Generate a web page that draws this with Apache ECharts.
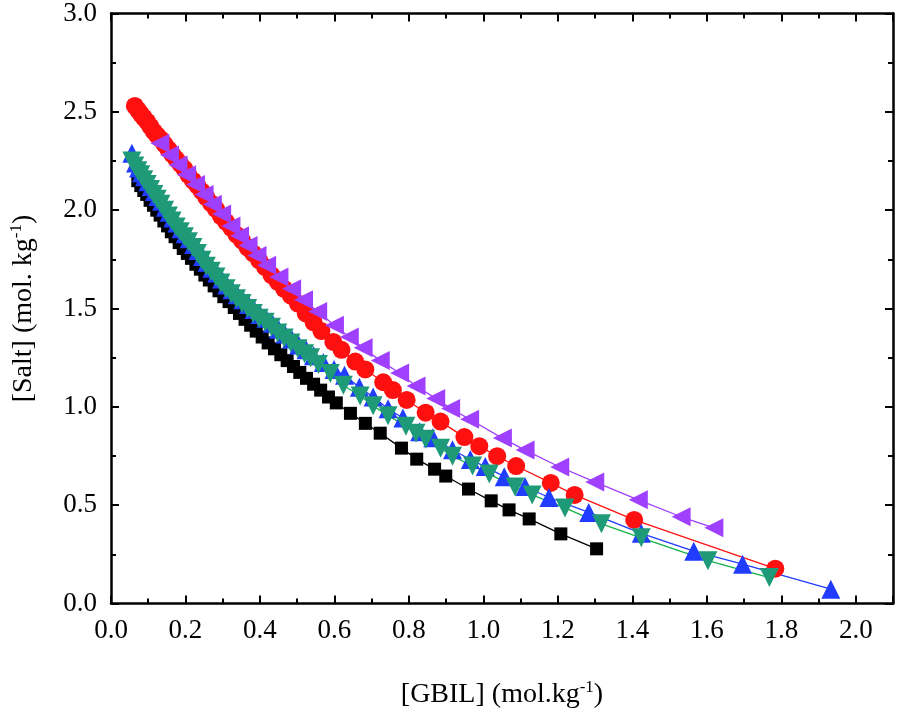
<!DOCTYPE html>
<html lang="en">
  <head>
    <meta charset="UTF-8" />
    <title>Salt vs GBIL</title>
    <script src="https://cdn.jsdelivr.net/npm/echarts@6.0.0/dist/echarts.min.js"></script>
    <style>
      html, body { margin: 0; padding: 0; background: #fff; }
    </style>
  </head>
  <body>
    <div id="chart" style="width: 897px; height: 714px"></div>

    <script type="text/javascript">
      // points: [GBIL, Salt] in mol/kg
      const blackSquares = [
        [0.072, 2.15], [0.080, 2.125], [0.088, 2.10], [0.096, 2.08], [0.105, 2.05], [0.114, 2.025],
        [0.123, 2.00], [0.132, 1.975], [0.142, 1.945], [0.152, 1.92], [0.162, 1.89], [0.172, 1.865],
        [0.183, 1.835], [0.194, 1.805], [0.205, 1.78], [0.216, 1.755], [0.228, 1.725], [0.240, 1.70],
        [0.252, 1.67], [0.264, 1.645], [0.277, 1.615], [0.290, 1.59], [0.303, 1.56], [0.317, 1.535],
        [0.331, 1.505], [0.345, 1.475], [0.360, 1.445], [0.375, 1.415], [0.390, 1.385], [0.406, 1.355],
        [0.422, 1.325], [0.439, 1.295], [0.456, 1.265], [0.473, 1.235], [0.490, 1.205], [0.507, 1.175],
        [0.525, 1.145], [0.544, 1.115], [0.563, 1.085], [0.584, 1.05], [0.605, 1.02], [0.643, 0.967],
        [0.683, 0.916], [0.723, 0.866], [0.780, 0.79], [0.821, 0.734], [0.869, 0.683], [0.899, 0.648],
        [0.960, 0.582], [1.021, 0.522], [1.069, 0.476], [1.123, 0.430], [1.208, 0.354], [1.304, 0.278]
      ];
      const redCircles = [
        [0.064, 2.53], [0.072, 2.51], [0.080, 2.49], [0.088, 2.47], [0.097, 2.45], [0.106, 2.425],
        [0.115, 2.40], [0.124, 2.38], [0.134, 2.36], [0.144, 2.335], [0.154, 2.31], [0.164, 2.285],
        [0.175, 2.26], [0.186, 2.235], [0.197, 2.21], [0.208, 2.18], [0.220, 2.15], [0.232, 2.125],
        [0.244, 2.095], [0.256, 2.065], [0.269, 2.035], [0.282, 2.005], [0.295, 1.97], [0.309, 1.94],
        [0.323, 1.91], [0.337, 1.875], [0.352, 1.845], [0.367, 1.81], [0.382, 1.78], [0.398, 1.745],
        [0.414, 1.71], [0.431, 1.67], [0.448, 1.635], [0.465, 1.60], [0.483, 1.565], [0.502, 1.525],
        [0.523, 1.475], [0.544, 1.43], [0.565, 1.385], [0.597, 1.33], [0.619, 1.29], [0.656, 1.23],
        [0.683, 1.19], [0.731, 1.125], [0.757, 1.085], [0.794, 1.035], [0.845, 0.97], [0.885, 0.925],
        [0.949, 0.846], [0.989, 0.800], [1.037, 0.749], [1.088, 0.699], [1.181, 0.613], [1.245, 0.552],
        [1.405, 0.425], [1.784, 0.177]
      ];
      const blueUp = [
        [0.056, 2.29], [0.066, 2.24], [0.074, 2.215], [0.082, 2.19], [0.090, 2.17], [0.099, 2.145],
        [0.108, 2.12], [0.117, 2.095], [0.126, 2.07], [0.136, 2.045], [0.146, 2.015], [0.156, 1.99],
        [0.166, 1.96], [0.177, 1.935], [0.188, 1.905], [0.199, 1.88], [0.210, 1.855], [0.222, 1.825],
        [0.234, 1.795], [0.246, 1.765], [0.258, 1.735], [0.271, 1.705], [0.284, 1.68], [0.297, 1.65],
        [0.311, 1.62], [0.325, 1.595], [0.339, 1.57], [0.354, 1.545], [0.369, 1.52], [0.384, 1.495],
        [0.400, 1.47], [0.416, 1.45], [0.433, 1.425], [0.450, 1.395], [0.467, 1.37], [0.485, 1.345],
        [0.504, 1.315], [0.524, 1.29], [0.544, 1.26], [0.570, 1.225], [0.599, 1.19], [0.627, 1.16],
        [0.667, 1.10], [0.704, 1.05], [0.744, 0.99], [0.784, 0.943], [0.829, 0.873], [0.864, 0.843],
        [0.917, 0.782], [0.965, 0.732], [1.005, 0.696], [1.056, 0.645], [1.112, 0.595], [1.176, 0.539],
        [1.283, 0.463], [1.424, 0.357], [1.565, 0.266], [1.696, 0.200], [1.933, 0.073]
      ];
      const greenDown = [
        [0.056, 2.25], [0.064, 2.225], [0.072, 2.20], [0.080, 2.18], [0.088, 2.155], [0.097, 2.13],
        [0.106, 2.105], [0.115, 2.08], [0.124, 2.055], [0.134, 2.03], [0.144, 2.00], [0.154, 1.97],
        [0.164, 1.945], [0.175, 1.915], [0.186, 1.89], [0.197, 1.865], [0.208, 1.84], [0.220, 1.81],
        [0.232, 1.78], [0.244, 1.745], [0.256, 1.715], [0.269, 1.69], [0.282, 1.66], [0.295, 1.63],
        [0.309, 1.60], [0.323, 1.575], [0.337, 1.55], [0.352, 1.525], [0.367, 1.50], [0.382, 1.475],
        [0.398, 1.45], [0.414, 1.43], [0.431, 1.405], [0.448, 1.375], [0.465, 1.35], [0.483, 1.325],
        [0.502, 1.295], [0.520, 1.27], [0.536, 1.25], [0.557, 1.215], [0.589, 1.17], [0.624, 1.11],
        [0.669, 1.055], [0.704, 1.005], [0.744, 0.955], [0.792, 0.901], [0.819, 0.866], [0.845, 0.835],
        [0.885, 0.789], [0.917, 0.749], [0.971, 0.699], [1.016, 0.658], [1.085, 0.592], [1.131, 0.552],
        [1.219, 0.486], [1.317, 0.405], [1.424, 0.334], [1.603, 0.218], [1.768, 0.132]
      ];
      const purpleLeft = [
        [0.131, 2.34], [0.157, 2.28], [0.180, 2.23], [0.203, 2.18], [0.227, 2.13], [0.250, 2.08],
        [0.272, 2.03], [0.297, 1.98], [0.322, 1.92], [0.345, 1.87], [0.368, 1.82], [0.392, 1.77],
        [0.418, 1.72], [0.451, 1.66], [0.485, 1.60], [0.517, 1.545], [0.555, 1.485], [0.600, 1.415],
        [0.640, 1.355], [0.677, 1.30], [0.723, 1.235], [0.775, 1.172], [0.819, 1.106], [0.872, 1.043],
        [0.912, 0.992], [0.963, 0.937], [1.051, 0.841], [1.112, 0.780], [1.205, 0.694], [1.299, 0.618],
        [1.416, 0.527], [1.531, 0.441], [1.619, 0.385]
      ];

      const chart = echarts.init(document.getElementById("chart"));
      const font = "Liberation Serif";

      // frame axes: all four sides get inward ticks, only bottom/left have labels
      function frameAxis(extra) {
        return Object.assign({
          type: "value",
          axisLine: { show: true, onZero: false, lineStyle: { color: "#000", width: 2.5 } },
          axisTick: { show: true, inside: true, length: 8, lineStyle: { color: "#000", width: 2 } },
          minorTick: { show: true, splitNumber: 2, length: 5, lineStyle: { color: "#000", width: 2 } },
          splitLine: { show: false },
          minorSplitLine: { show: false }
        }, extra);
      }

      function lineSeries(name, data, symbol, size, color, lineColor, rotate) {
        return {
          name: name,
          type: "line",
          data: data,
          symbol: symbol,
          symbolSize: size,
          symbolRotate: rotate || 0,
          showAllSymbol: true,
          itemStyle: { color: color },
          lineStyle: { color: lineColor, width: 1.3 },
          z: 3
        };
      }

      const titleRich = {
        n: { fontFamily: font, fontSize: 28, color: "#000" },
        s: { fontFamily: font, fontSize: 17, color: "#000", padding: [0, 0, 14, 0] }
      };

      const option = {
        animation: false,
        grid: { left: 106, right: 4, top: 12, bottom: 110 },
        xAxis: [
          frameAxis({
            position: "bottom", min: 0, max: 2.1, interval: 0.2,
            axisLabel: {
              color: "#000", fontFamily: font, fontSize: 27, margin: 14, showMaxLabel: false,
              formatter: (v) => v.toFixed(1)
            },
            name: "{n|[GBIL] (mol.kg}{s|-1}{n|)}",
            nameLocation: "middle",
            nameGap: 76,
            nameTextStyle: { rich: titleRich }
          }),
          frameAxis({
            position: "top", min: 0, max: 2.1, interval: 0.2,
            axisLabel: { show: false }
          })
        ],
        yAxis: [
          frameAxis({
            position: "left", min: 0, max: 3, interval: 0.5,
            axisLabel: {
              color: "#000", fontFamily: font, fontSize: 27, margin: 14,
              formatter: (v) => v.toFixed(1)
            },
            name: "{n|[Salt] (mol. kg}{s|-1}{n|)}",
            nameLocation: "middle",
            nameGap: 72,
            nameRotate: 90,
            nameTextStyle: { rich: titleRich }
          }),
          frameAxis({
            position: "right", min: 0, max: 3, interval: 0.5,
            axisLabel: { show: false }
          })
        ],
        series: [
          lineSeries("black", blackSquares, "rect", 13, "#000000", "#000000"),
          lineSeries("red", redCircles, "circle", 18, "#ff1010", "#ff1010"),
          lineSeries("blue", blueUp, "triangle", 19, "#1f3cff", "#1f3cff"),
          lineSeries("green", greenDown, "triangle", 19, "#1f9a78", "#14b04a", 180),
          lineSeries("purple", purpleLeft, "triangle", 19, "#a040ff", "#a040ff", 90)
        ]
      };

      chart.setOption(option);
    </script>
  </body>
</html>
